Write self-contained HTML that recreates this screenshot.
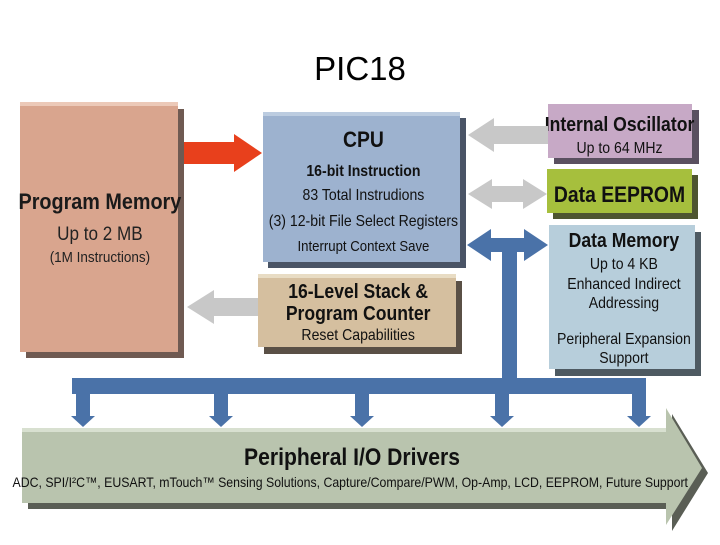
<!DOCTYPE html>
<html><head><meta charset="utf-8"><style>
html,body{margin:0;padding:0;background:#fff;}
svg text{font-family:"Liberation Sans",sans-serif;}
</style></head><body>
<svg width="720" height="540" viewBox="0 0 720 540" xmlns="http://www.w3.org/2000/svg">
<text x="360" y="80" font-size="33" text-anchor="middle" fill="#000">PIC18</text>

<!-- Program Memory -->
<rect x="26" y="109" width="158" height="249" fill="#6f5a52"/>
<rect x="20" y="102" width="158" height="250" fill="#d9a58e"/>
<rect x="20" y="102" width="158" height="4" fill="#ecc9b8"/>
<text x="100" y="209" font-size="22" font-weight="bold" text-anchor="middle" fill="#1a1a1a" transform="scale(0.9,1) translate(11,0)">Program Memory</text>
<text x="100" y="240" font-size="19" text-anchor="middle" fill="#222" transform="scale(0.9,1) translate(11,0)">Up to 2 MB</text>
<text x="100" y="262" font-size="15" text-anchor="middle" fill="#222" transform="scale(0.9,1) translate(11,0)">(1M Instructions)</text>

<!-- red arrow -->
<polygon points="184,142 234,142 234,134 262,153 234,172 234,164 184,164" fill="#e8401c"/>

<!-- CPU -->
<rect x="268" y="118" width="198" height="150" fill="#4a5466"/>
<rect x="263" y="112" width="197" height="150" fill="#9db2cf"/>
<rect x="263" y="112" width="197" height="4" fill="#bccce0"/>
<g transform="scale(0.88,1)">
<text x="413" y="147" font-size="22" font-weight="bold" text-anchor="middle" fill="#111">CPU</text>
<text x="413" y="176" font-size="16" font-weight="bold" text-anchor="middle" fill="#111">16-bit Instruction</text>
<text x="413" y="200" font-size="16" text-anchor="middle" fill="#111">83 Total Instrudions</text>
<text x="413" y="226" font-size="16" text-anchor="middle" fill="#111">(3) 12-bit File Select Registers</text>
<text x="413" y="251" font-size="15" text-anchor="middle" fill="#111">Interrupt Context Save</text>
</g>

<!-- Stack -->
<rect x="264" y="281" width="198" height="73" fill="#5a5046"/>
<rect x="258" y="274" width="198" height="73" fill="#d5bf9f"/>
<rect x="258" y="274" width="198" height="4" fill="#e8dcc4"/>
<g transform="scale(0.88,1)">
<text x="407" y="298" font-size="20" font-weight="bold" text-anchor="middle" fill="#111">16-Level Stack &amp;</text>
<text x="407" y="320" font-size="20" font-weight="bold" text-anchor="middle" fill="#111">Program Counter</text>
<text x="407" y="340" font-size="16" text-anchor="middle" fill="#111">Reset Capabilities</text>
</g>

<!-- gray left arrow -->
<polygon points="258,298 214,298 214,290 187,307 214,324 214,316 258,316" fill="#c8c8c8"/>

<!-- Internal Oscillator -->
<rect x="554" y="110" width="145" height="54" fill="#5a5060"/>
<rect x="548" y="104" width="144" height="54" fill="#c7a9c6"/>
<g transform="scale(0.88,1)">
<text x="704" y="131" font-size="20" font-weight="bold" text-anchor="middle" fill="#111">Internal Oscillator</text>
<text x="704" y="153" font-size="16" text-anchor="middle" fill="#111">Up to 64 MHz</text>
</g>
<polygon points="548,126 494,126 494,118 468,135 494,152 494,144 548,144" fill="#c8c8c8"/>

<!-- EEPROM -->
<rect x="553" y="175" width="145" height="44" fill="#4e5530"/>
<rect x="547" y="169" width="145" height="44" fill="#a6bf3d"/>
<text x="704" y="202" font-size="22" font-weight="bold" text-anchor="middle" fill="#111" transform="scale(0.88,1)">Data EEPROM</text>
<polygon points="468,194 492,179 492,186 523,186 523,179 547,194 523,209 523,202 492,202 492,209" fill="#c8c8c8"/>

<!-- Data Memory -->
<rect x="555" y="232" width="146" height="144" fill="#4e5a62"/>
<rect x="549" y="225" width="146" height="144" fill="#b7cedb"/>
<g transform="scale(0.88,1)">
<text x="709" y="247" font-size="20" font-weight="bold" text-anchor="middle" fill="#111">Data Memory</text>
<text x="709" y="269" font-size="16" text-anchor="middle" fill="#111">Up to 4 KB</text>
<text x="709" y="289" font-size="16" text-anchor="middle" fill="#111">Enhanced Indirect</text>
<text x="709" y="308" font-size="16" text-anchor="middle" fill="#111">Addressing</text>
<text x="709" y="344" font-size="16" text-anchor="middle" fill="#111">Peripheral Expansion</text>
<text x="709" y="363" font-size="16" text-anchor="middle" fill="#111">Support</text>
</g>

<!-- blue bus -->
<g fill="#4a72a8">
<polygon points="467,245 491,229 491,238 524,238 524,229 548,245 524,261 524,252 491,252 491,261"/>
<rect x="502" y="245" width="15" height="140"/>
<rect x="72" y="378" width="574" height="16"/>
<rect x="76" y="385" width="14" height="32"/><polygon points="71,416 95,416 83,427"/>
<rect x="214" y="385" width="14" height="32"/><polygon points="209,416 233,416 221,427"/>
<rect x="355" y="385" width="14" height="32"/><polygon points="350,416 374,416 362,427"/>
<rect x="495" y="385" width="14" height="32"/><polygon points="490,416 514,416 502,427"/>
<rect x="632" y="385" width="14" height="32"/><polygon points="627,416 651,416 639,427"/>
</g>

<!-- Peripheral big arrow -->
<polygon points="28,434 672,434 672,414 708,473 672,531 672,509 28,509" fill="#5a5e55"/>
<polygon points="22,428 666,428 666,408 702,468 666,525 666,503 22,503" fill="#b9c4ae"/>
<rect x="22" y="428" width="644" height="4" fill="#d8e0d0"/>
<text x="400" y="465" font-size="24" font-weight="bold" text-anchor="middle" fill="#111" transform="scale(0.88,1)">Peripheral I/O Drivers</text>
<text x="398" y="487" font-size="14" text-anchor="middle" fill="#111" transform="scale(0.88,1)">ADC, SPI/I²C™, EUSART, mTouch™ Sensing Solutions, Capture/Compare/PWM, Op-Amp, LCD, EEPROM, Future Support</text>
</svg>
</body></html>
